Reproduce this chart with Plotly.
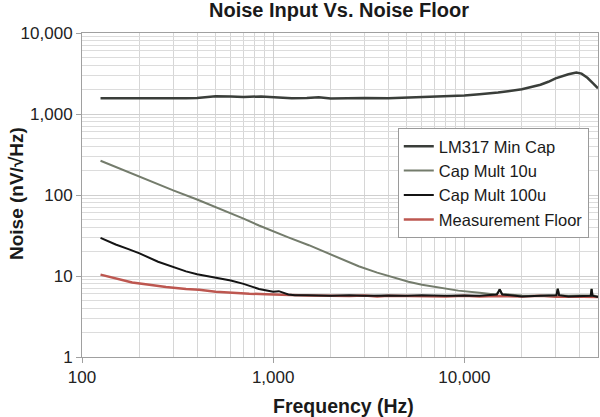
import plotly.graph_objects as go

# ---------------- data ----------------
lm317_freq = [125, 160, 200, 250, 300, 350, 400, 450, 500, 600, 700, 865, 1000,
              1250, 1500, 1730, 2000, 2500, 3000, 4000, 5000, 6000, 7000, 8300, 10000,
              12000, 15000, 20000, 25000, 27500, 30000, 35000, 38500, 41000, 44000, 47000, 50000]
lm317_val = [1560, 1550, 1565, 1570, 1560, 1560, 1580, 1620, 1660, 1640, 1620, 1650, 1610,
             1560, 1580, 1610, 1550, 1570, 1580, 1560, 1590, 1600, 1610, 1640, 1690,
             1750, 1840, 2020, 2300, 2500, 2750, 3100, 3250, 3150, 2800, 2400, 2080]

cm10_freq = [125, 150, 200, 250, 300, 400, 500, 600, 700, 843, 1000, 1200, 1537,
             2000, 2800, 3500, 4000, 5100, 6000, 7000, 8000, 9300, 12000, 14500,
             15000, 15300, 15700, 20000, 25000, 30300, 30800, 31300, 35000, 40000, 45800,
             46300, 46800, 50000]
cm10_val = [265, 222, 168, 136, 114, 88, 71, 60, 51, 42, 35.5, 30, 24,
            18.5, 13.2, 11, 10, 8.5, 7.8, 7.3, 7.0, 6.6, 6.2, 5.9,
            6.2, 6.9, 6.0, 5.75, 5.7, 5.8, 7.0, 5.8, 5.7, 5.7, 5.8,
            7.0, 5.8, 5.6]

cm100_freq = [125, 150, 175, 200, 250, 300, 350, 400, 500, 600, 700, 843, 1000,
              1070, 1200, 1300, 1500, 2000, 2500, 3000, 4000, 5000, 6000, 8000,
              10000, 12000, 14800, 15300, 15800, 20000, 25000, 30300, 30800, 31300,
              35000, 40000, 45800, 46300, 46800, 50000]
cm100_val = [29.5, 24.5, 21.5, 19, 15, 12.8, 11.4, 10.5, 9.6, 8.8, 8.0, 6.9, 6.4,
             6.5, 5.9, 5.8, 5.8, 5.7, 5.8, 5.7, 5.75, 5.7, 5.8, 5.7,
             5.75, 5.7, 5.9, 6.8, 5.9, 5.6, 5.7, 5.8, 6.9, 5.8,
             5.6, 5.7, 5.7, 6.9, 5.7, 5.5]

floor_freq = [125, 150, 183, 225, 275, 350, 410, 500, 611, 750, 915, 1100, 1500, 2000,
              2500, 3000, 3500, 4000, 5000, 6000, 8000, 10000, 12000, 15000, 20000,
              25000, 30000, 35000, 40000, 45000, 50000]
floor_val = [10.4, 9.3, 8.3, 7.8, 7.3, 6.9, 6.75, 6.4, 6.2, 6.05, 5.95, 5.85, 5.75, 5.7,
             5.65, 5.75, 5.6, 5.7, 5.65, 5.7, 5.6, 5.7, 5.6, 5.65, 5.6,
             5.7, 5.55, 5.6, 5.6, 5.55, 5.5]

x_ticks = [100, 1000, 10000]
x_tick_labels = ["100", "1,000", "10,000"]
y_ticks = [1, 10, 100, 1000, 10000]
y_tick_labels = ["1", "10", "100", "1,000", "10,000"]

FONT = "Liberation Sans, Arial, sans-serif"

fig = go.Figure()
fig.add_trace(go.Scatter(x=floor_freq, y=floor_val, mode="lines", name="Measurement Floor",
                         line=dict(color="#bd5750", width=2.5), legendrank=4))
fig.add_trace(go.Scatter(x=cm10_freq, y=cm10_val, mode="lines", name="Cap Mult 10u",
                         line=dict(color="#747c6c", width=2), legendrank=2))
fig.add_trace(go.Scatter(x=cm100_freq, y=cm100_val, mode="lines", name="Cap Mult 100u",
                         line=dict(color="#141414", width=2), legendrank=3))
fig.add_trace(go.Scatter(x=lm317_freq, y=lm317_val, mode="lines", name="LM317 Min Cap",
                         line=dict(color="#3a3e3a", width=2.5), legendrank=1))

axis_common = dict(
    showline=True, linecolor="#a0a0a0", linewidth=1, mirror=True,
    ticks="outside", ticklen=5, tickcolor="#a0a0a0",
    showgrid=True, gridcolor="#cfcfcf", gridwidth=1,
    tickfont=dict(family=FONT, size=17, color="#222222"),
    zeroline=False,
)

plot_w = 600 - 82 - 2
plot_h = 417 - 33 - 60

fig.update_layout(
    width=600, height=417,
    margin=dict(l=82, r=2, t=33, b=60),
    paper_bgcolor="white", plot_bgcolor="white",
    font=dict(family=FONT, color="#1a1a1a"),
    title=dict(text="<b>Noise Input Vs. Noise Floor</b>", x=(339 - 82) / plot_w, xref="paper",
               xanchor="center", y=0.975, yref="container", yanchor="middle",
               font=dict(family=FONT, size=20, color="#1a1a1a")),
    xaxis=dict(type="log", range=[2, 4.699], tickmode="array", tickvals=x_ticks,
               ticktext=x_tick_labels,
               minor=dict(dtick="D1", showgrid=True, gridcolor="#d6d6d6", ticks=""),
               **axis_common),
    yaxis=dict(type="log", range=[0, 4], tickmode="array", tickvals=y_ticks,
               ticktext=y_tick_labels,
               minor=dict(dtick="D1", showgrid=True, gridcolor="#dcdcdc", ticks=""),
               **axis_common),
    showlegend=True,
    legend=dict(x=0.612, y=0.707, xanchor="left", yanchor="top",
                bgcolor="white", bordercolor="#9a9a9a", borderwidth=1,
                font=dict(family=FONT, size=16.5, color="#1a1a1a"),
                tracegroupgap=0),
    annotations=[
        dict(text="<b>Noise (nV/√Hz)</b>", textangle=-90,
             x=(16 - 82) / plot_w, y=(357 - 194) / plot_h,
             xref="paper", yref="paper", xanchor="center", yanchor="middle",
             showarrow=False, font=dict(family=FONT, size=19, color="#1a1a1a")),
        dict(text="<b>Frequency (Hz)</b>",
             x=(343 - 82) / plot_w, y=(357 - 406) / plot_h,
             xref="paper", yref="paper", xanchor="center", yanchor="middle",
             showarrow=False, font=dict(family=FONT, size=19.5, color="#1a1a1a")),
    ],
)

fig.write_html("out.html")
